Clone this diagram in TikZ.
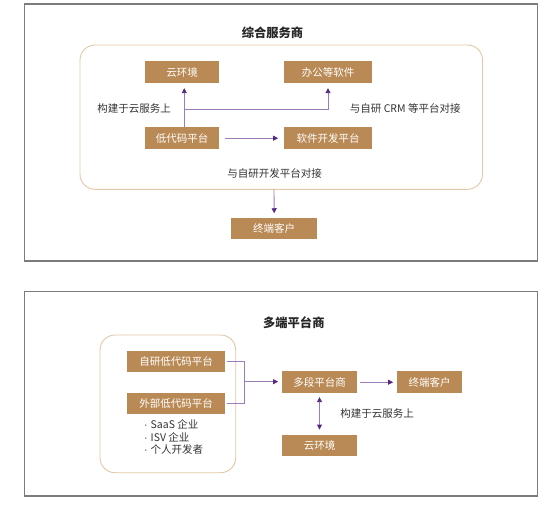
\documentclass[tikz,border=0pt]{standalone}
\usepackage{fontspec}
\setmainfont{Noto Sans CJK SC}
\newfontfamily\latinfont{Liberation Sans}
\usetikzlibrary{arrows.meta,calc}
\definecolor{boxfill}{HTML}{B98A55}
\definecolor{rborder}{HTML}{E2C7A4}
\definecolor{framegray}{HTML}{7C7C7C}
\definecolor{arrline}{HTML}{9C7DBA}
\definecolor{arrtip}{HTML}{56287F}
\definecolor{txt}{HTML}{333333}
\newcommand{\mydot}{{\latinfont ·}\hspace{3pt}}
\begin{document}
\begin{tikzpicture}[x=1pt,y=-1pt,
  goldbox/.style={fill=boxfill,text=white,inner sep=0pt,font=\fontsize{10.5}{12}\selectfont,minimum height=21.5pt},
  lbl/.style={text=txt,inner sep=0pt,font=\fontsize{10.5}{12}\selectfont},
  ttl/.style={text=black!85,inner sep=0pt,font=\fontsize{12.3}{14}\selectfont\bfseries},
  frame/.style={draw=framegray,line width=1.1pt},
  rbox/.style={draw=rborder,line width=0.9pt,rounded corners=15pt},
  conn/.style={draw=arrline,line width=0.9pt},
  arr/.style={conn,-{Triangle[length=5pt,width=5pt,color=arrtip]}},
  darr/.style={conn,{Triangle[length=5pt,width=5pt,color=arrtip]}-{Triangle[length=5pt,width=5pt,color=arrtip]}}
]
\useasboundingbox (0,0) rectangle (554,506);
% ---------- upper panel ----------
\draw[frame] (24.3,4) rectangle (537.3,261);
\node[ttl] (t1) at (272.5,32.5) {综合服务商};
\draw[rbox] (80,45) rectangle (482.5,189.3);
\coordinate (rb1s) at (274,189.3);
\node[goldbox,minimum width=74.3pt] (yun1) at (182.2,72.2) {云环境};
\node[goldbox,minimum width=87.4pt] (bangong) at (328,72.2) {办公等软件};
\node[goldbox,minimum width=74.3pt] (dima) at (182.2,138.2) {低代码平台};
\node[goldbox,minimum width=87.4pt] (ruanjian) at (328,138.2) {软件开发平台};
\node[goldbox,minimum width=86pt] (zd1) at (274.2,228.5) {终端客户};
\node[lbl] (l1) at (134.2,109) {构建于云服务上};
\node[lbl] (l2) at (405.2,109) {与自研 CRM 等平台对接};
\node[lbl] (l3) at (274.5,173.3) {与自研开发平台对接};
\coordinate (up1) at ($(dima.north)+(2.1,0)$);
\coordinate (j1) at (184.3,109);
\draw[arr,shorten >=5pt] (up1) -- (up1 |- yun1.south);
\draw[arr,shorten >=5pt] (j1) -| (bangong.south);
\draw[arr,shorten <=5.7pt,shorten >=6pt] (dima.east) -- (ruanjian.west);
\draw[arr,shorten >=4.3pt] (rb1s) -- (zd1.north);
% ---------- lower panel ----------
\draw[frame] (24.3,291.7) rectangle (537.3,496);
\node[ttl] (t2) at (293.8,322.5) {多端平台商};
\draw[rbox] (100,335) rectangle (235.7,472.7);
\node[goldbox,minimum width=97.7pt] (zy) at (176.2,361.7) {自研低代码平台};
\node[goldbox,minimum width=97.7pt] (wb) at (176.2,403.3) {外部低代码平台};
\node[lbl,anchor=north west,align=left,font=\fontsize{10.5}{12.4}\selectfont] (list) at (144,419.5) {\mydot SaaS 企业\\\mydot ISV 企业\\\mydot 个人开发者};
\node[goldbox,minimum width=75.6pt] (dsp) at (319.5,382.2) {多段平台商};
\node[goldbox,minimum width=64.4pt] (zd2) at (429.5,382.2) {终端客户};
\node[goldbox,minimum width=75.6pt] (yun2) at (319.5,445.5) {云环境};
\node[lbl] (l4) at (377,413.3) {构建于云服务上};
\coordinate (b1) at (244.3,381.7);
\draw[conn] ([xshift=1.5pt]zy.east) -| (b1) |- ([xshift=1.5pt]wb.east);
\draw[arr,shorten >=3.4pt] (b1) -- (b1 -| dsp.west);
\draw[arr,shorten <=2.7pt,shorten >=4pt] (dsp.east) -- (zd2.west);
\draw[darr,shorten <=4pt,shorten >=5pt] (dsp.south) -- (yun2.north);
\end{tikzpicture}
\end{document}
